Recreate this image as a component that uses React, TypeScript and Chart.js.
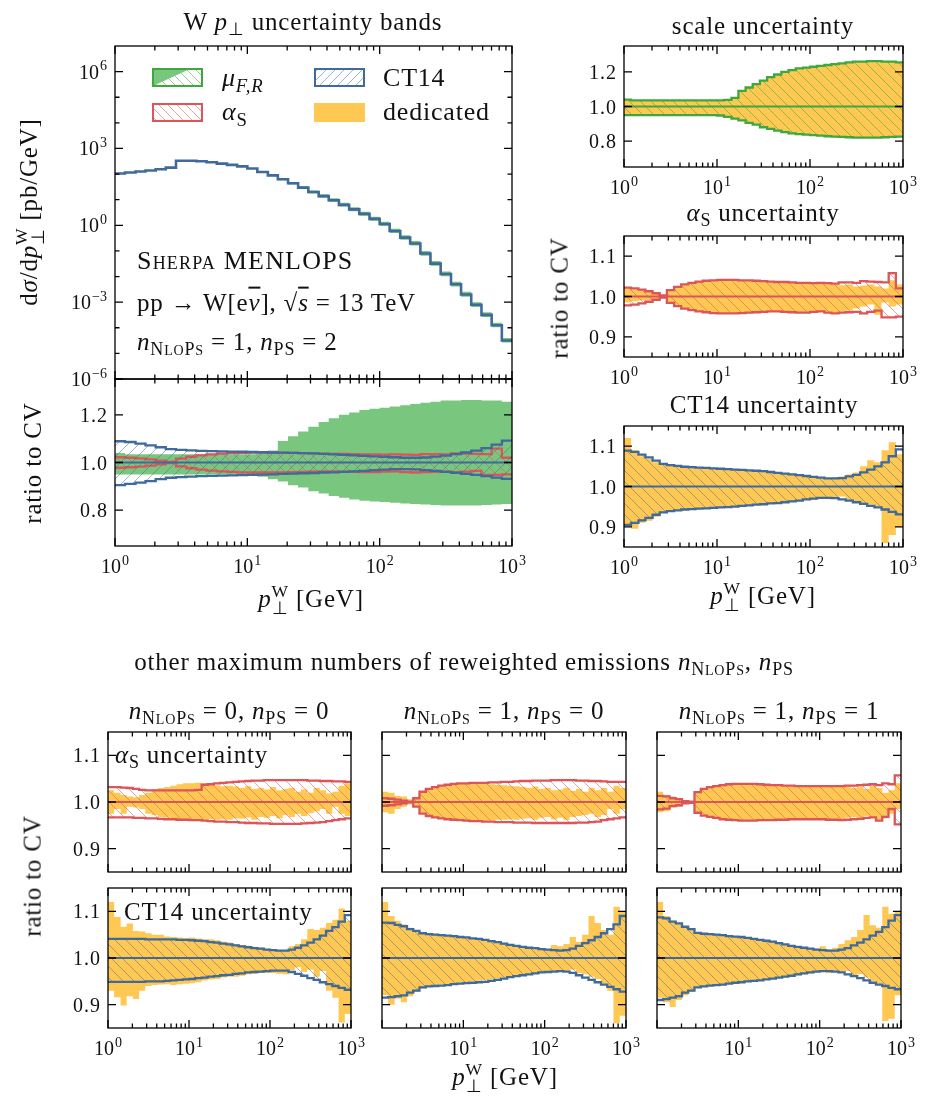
import React, { useEffect, useRef } from "react";
import { Chart, registerables } from "chart.js";
Chart.register(...registerables);

const W = 930;
const H = 1098;
const FONT = '"Liberation Serif", "Times New Roman", serif';
const TICK_PX = 20;
const EXP_PX = 14;

const C_GREEN = "#3ea83e";
const C_GREEN_FILL = "#79c77f";
const C_RED = "#dc5558";
const C_BLUE = "#3f6a9a";
const C_YELLOW = "#fec853";

// histogram bin edges in GeV (13 log bins per decade)
const BIN_EDGES = [1, 1.19, 1.43, 1.70, 2.03, 2.42, 2.89, 3.46, 4.12, 4.92, 5.88, 7.02, 8.38,
  10, 11.9, 14.3, 17.0, 20.3, 24.2, 28.9, 34.6, 41.2, 49.2, 58.8, 70.2, 83.8,
  100, 119, 143, 170, 203, 242, 289, 346, 412, 492, 588, 702, 838, 1000];

// dσ/dp⊥ [pb/GeV]
const SPECTRUM = [105, 115, 126, 138, 155, 178, 331, 331, 316, 288, 257, 229, 200, 166, 120, 89,
  63, 43.6, 29.5, 20, 13.8, 9.5, 6.3, 4.2, 2.8, 1.78, 1.12, 0.60, 0.33, 0.195, 0.079, 0.032,
  0.0126, 0.005, 0.002, 7.9e-4, 3.2e-4, 1.26e-4, 3.2e-5];

// ---- n_NLOPS = 1, n_PS = 2 ----
const SCALE_UP = [1.04, 1.035, 1.035, 1.035, 1.035, 1.035, 1.035, 1.035, 1.035, 1.035, 1.035, 1.035, 1.035, 1.035,
  1.038, 1.05, 1.09, 1.11, 1.13, 1.15, 1.17, 1.185, 1.20, 1.21, 1.22, 1.225, 1.23, 1.235, 1.24, 1.245,
  1.25, 1.255, 1.26, 1.26, 1.262, 1.262, 1.26, 1.26, 1.255];
const SCALE_LO = [0.95, 0.95, 0.95, 0.95, 0.95, 0.95, 0.95, 0.95, 0.95, 0.95, 0.95, 0.95, 0.95,
  0.948, 0.94, 0.93, 0.92, 0.905, 0.895, 0.88, 0.87, 0.86, 0.852, 0.845, 0.84, 0.837, 0.834, 0.831,
  0.828, 0.826, 0.824, 0.822, 0.82, 0.82, 0.82, 0.82, 0.822, 0.824, 0.826];
const SCALE_DED_UP = [1.038, 1.034, 1.034, 1.034, 1.034, 1.034, 1.034, 1.034, 1.034, 1.034, 1.034, 1.034, 1.034, 1.034,
  1.037, 1.049, 1.088, 1.108, 1.128, 1.148, 1.168, 1.183, 1.198, 1.208, 1.218, 1.223, 1.228, 1.233, 1.238, 1.243,
  1.248, 1.253, 1.258, 1.258, 1.26, 1.26, 1.258, 1.258, 1.253];
const SCALE_DED_LO = [0.952, 0.952, 0.952, 0.952, 0.952, 0.952, 0.952, 0.952, 0.952, 0.952, 0.952, 0.952, 0.952,
  0.95, 0.942, 0.932, 0.922, 0.907, 0.897, 0.882, 0.872, 0.862, 0.854, 0.847, 0.842, 0.839, 0.836, 0.833,
  0.83, 0.828, 0.826, 0.824, 0.822, 0.822, 0.822, 0.822, 0.824, 0.826, 0.828];

const ALPHAS_UP = [1.022, 1.020, 1.017, 1.013, 1.008, 1.003, 1.016, 1.024, 1.030, 1.034, 1.037, 1.039, 1.040,
  1.041, 1.041, 1.041, 1.040, 1.040, 1.039, 1.038, 1.037, 1.036, 1.036, 1.035, 1.034, 1.034, 1.033,
  1.034, 1.033, 1.032, 1.035, 1.035, 1.034, 1.038, 1.037, 1.036, 1.035, 1.058, 1.020];
const ALPHAS_LO = [0.978, 0.980, 0.983, 0.987, 0.992, 0.997, 0.984, 0.976, 0.970, 0.966, 0.963, 0.961, 0.959,
  0.958, 0.958, 0.958, 0.959, 0.960, 0.961, 0.962, 0.963, 0.963, 0.962, 0.961, 0.960, 0.960, 0.962,
  0.963, 0.960, 0.958, 0.960, 0.961, 0.962, 0.958, 0.962, 0.965, 0.948, 0.948, 0.950];
const ALPHAS_DED_UP = [1.02, 1.018, 1.015, 1.012, 1.008, 1.004, 1.015, 1.023, 1.029, 1.033, 1.036, 1.038, 1.039,
  1.04, 1.04, 1.04, 1.039, 1.039, 1.038, 1.037, 1.036, 1.035, 1.035, 1.034, 1.033, 1.033, 1.032,
  1.033, 1.031, 1.03, 1.028, 1.03, 1.025, 1.027, 1.03, 1.025, 1.02, 1.04, 1.03];
const ALPHAS_DED_LO = [0.985, 0.988, 0.99, 0.99, 0.993, 0.997, 0.985, 0.977, 0.971, 0.967, 0.964, 0.962, 0.96,
  0.959, 0.959, 0.959, 0.96, 0.961, 0.962, 0.963, 0.964, 0.964, 0.963, 0.962, 0.961, 0.962, 0.963,
  0.964, 0.962, 0.96, 0.963, 0.965, 0.97, 0.975, 0.98, 0.955, 0.985, 0.975, 0.98];

const CT14_UP = [1.089, 1.086, 1.079, 1.072, 1.064, 1.056, 1.053, 1.051, 1.049, 1.048, 1.047, 1.046, 1.045,
  1.044, 1.043, 1.042, 1.041, 1.040, 1.039, 1.038, 1.036, 1.034, 1.032, 1.030, 1.028, 1.026, 1.024,
  1.022, 1.020, 1.020, 1.021, 1.025, 1.029, 1.035, 1.042, 1.050, 1.060, 1.075, 1.092];
const CT14_LO = [0.905, 0.910, 0.916, 0.922, 0.930, 0.936, 0.939, 0.941, 0.943, 0.944, 0.945, 0.946, 0.947,
  0.948, 0.949, 0.950, 0.952, 0.953, 0.955, 0.956, 0.958, 0.959, 0.961, 0.963, 0.965, 0.968, 0.970,
  0.972, 0.972, 0.971, 0.968, 0.965, 0.961, 0.957, 0.952, 0.948, 0.943, 0.937, 0.931];
const CT14_DED_UP = [1.12, 1.09, 1.075, 1.068, 1.06, 1.054, 1.052, 1.05, 1.049, 1.048, 1.047, 1.046, 1.045,
  1.044, 1.043, 1.042, 1.041, 1.04, 1.038, 1.037, 1.036, 1.034, 1.032, 1.03, 1.028, 1.025, 1.024,
  1.02, 1.02, 1.022, 1.025, 1.03, 1.035, 1.05, 1.065, 1.06, 1.09, 1.11, 1.08];
const CT14_DED_LO = [0.905, 0.895, 0.91, 0.915, 0.925, 0.935, 0.94, 0.942, 0.944, 0.945, 0.946, 0.947, 0.948,
  0.949, 0.95, 0.951, 0.952, 0.954, 0.955, 0.957, 0.958, 0.96, 0.962, 0.964, 0.966, 0.966, 0.968,
  0.97, 0.972, 0.97, 0.975, 0.966, 0.96, 0.958, 0.955, 0.95, 0.86, 0.88, 0.9];

// ---- n_NLOPS = 0, n_PS = 0 ----
const ALPHAS_UP_00 = [1.032, 1.032, 1.031, 1.030, 1.028, 1.026, 1.025, 1.025, 1.025, 1.025, 1.025, 1.025, 1.025,
  1.025, 1.026, 1.037, 1.038, 1.040, 1.041, 1.042, 1.043, 1.044, 1.045, 1.046, 1.046, 1.047, 1.047,
  1.047, 1.047, 1.047, 1.047, 1.047, 1.046, 1.046, 1.045, 1.045, 1.044, 1.044, 1.043];
const ALPHAS_LO_00 = [0.967, 0.967, 0.967, 0.967, 0.966, 0.966, 0.965, 0.965, 0.964, 0.963, 0.963, 0.962, 0.962,
  0.961, 0.961, 0.960, 0.959, 0.958, 0.958, 0.957, 0.957, 0.956, 0.955, 0.955, 0.954, 0.954, 0.953,
  0.953, 0.953, 0.953, 0.953, 0.954, 0.955, 0.956, 0.957, 0.959, 0.961, 0.963, 0.965];
const ALPHAS_DED_UP_00 = [1.025, 1.02, 1.015, 1.012, 1.01, 1.015, 1.02, 1.028, 1.03, 1.032, 1.035, 1.038, 1.04,
  1.04, 1.041, 1.04, 1.038, 1.036, 1.034, 1.035, 1.033, 1.03, 1.034, 1.028, 1.03, 1.027, 1.032,
  1.025, 1.028, 1.03, 1.022, 1.027, 1.02, 1.03, 1.025, 1.018, 1.022, 1.035, 1.04];
const ALPHAS_DED_LO_00 = [0.975, 0.985, 0.975, 0.99, 0.988, 0.985, 0.975, 0.972, 0.968, 0.967, 0.965, 0.962, 0.963,
  0.962, 0.961, 0.962, 0.963, 0.962, 0.963, 0.962, 0.965, 0.964, 0.967, 0.962, 0.968, 0.966, 0.97,
  0.965, 0.972, 0.968, 0.975, 0.97, 0.976, 0.98, 0.985, 0.975, 0.99, 0.975, 0.97];
const CT14_UP_00 = [1.041, 1.041, 1.041, 1.041, 1.041, 1.041, 1.040, 1.040, 1.040, 1.040, 1.040, 1.039, 1.039,
  1.038, 1.037, 1.036, 1.034, 1.033, 1.031, 1.029, 1.027, 1.025, 1.023, 1.021, 1.020, 1.018, 1.017,
  1.016, 1.016, 1.018, 1.022, 1.027, 1.033, 1.040, 1.048, 1.058, 1.066, 1.078, 1.092];
const CT14_LO_00 = [0.949, 0.949, 0.949, 0.949, 0.949, 0.949, 0.950, 0.950, 0.950, 0.951, 0.952, 0.953, 0.954,
  0.955, 0.957, 0.958, 0.960, 0.961, 0.963, 0.964, 0.966, 0.967, 0.969, 0.970, 0.971, 0.972, 0.973,
  0.973, 0.973, 0.970, 0.966, 0.962, 0.957, 0.953, 0.948, 0.944, 0.940, 0.936, 0.932];
const CT14_DED_UP_00 = [1.12, 1.088, 1.067, 1.074, 1.058, 1.057, 1.053, 1.05, 1.05, 1.046, 1.045, 1.044, 1.043,
  1.044, 1.042, 1.04, 1.04, 1.038, 1.035, 1.033, 1.03, 1.028, 1.026, 1.024, 1.022, 1.02, 1.018,
  1.016, 1.016, 1.025, 1.03, 1.04, 1.062, 1.06, 1.065, 1.075, 1.082, 1.106, 1.08];
const CT14_DED_LO_00 = [0.93, 0.916, 0.898, 0.918, 0.912, 0.93, 0.94, 0.942, 0.943, 0.944, 0.942, 0.944, 0.945,
  0.946, 0.948, 0.952, 0.954, 0.955, 0.958, 0.96, 0.96, 0.962, 0.965, 0.966, 0.968, 0.968, 0.968,
  0.966, 0.965, 0.974, 0.98, 0.97, 0.975, 0.96, 0.972, 0.93, 0.915, 0.862, 0.88];

// ---- n_NLOPS = 1, n_PS = 0 ----
const ALPHAS_UP_10 = [1.008, 1.007, 1.005, 1.003, 1.001, 1.008, 1.022, 1.028, 1.032, 1.035, 1.037, 1.039, 1.040,
  1.040, 1.041, 1.041, 1.041, 1.042, 1.042, 1.043, 1.043, 1.044, 1.045, 1.045, 1.046, 1.046, 1.046,
  1.047, 1.047, 1.047, 1.047, 1.046, 1.046, 1.045, 1.045, 1.044, 1.043, 1.043, 1.043];
const ALPHAS_LO_10 = [0.992, 0.993, 0.995, 0.997, 0.999, 0.99, 0.975, 0.970, 0.967, 0.965, 0.963, 0.962, 0.961,
  0.960, 0.959, 0.959, 0.958, 0.958, 0.957, 0.957, 0.957, 0.956, 0.956, 0.956, 0.955, 0.955, 0.955,
  0.955, 0.955, 0.955, 0.955, 0.956, 0.956, 0.957, 0.958, 0.961, 0.963, 0.965, 0.967];
const ALPHAS_DED_UP_10 = [1.022, 1.02, 1.013, 1.012, 1.006, 1.01, 1.02, 1.026, 1.03, 1.034, 1.036, 1.038, 1.04,
  1.04, 1.04, 1.04, 1.039, 1.038, 1.037, 1.036, 1.035, 1.034, 1.032, 1.03, 1.033, 1.028, 1.03,
  1.025, 1.027, 1.03, 1.024, 1.028, 1.022, 1.03, 1.025, 1.03, 1.022, 1.035, 1.03];
const ALPHAS_DED_LO_10 = [0.978, 0.975, 0.985, 0.99, 0.995, 0.99, 0.976, 0.971, 0.968, 0.966, 0.964, 0.962, 0.962,
  0.961, 0.96, 0.96, 0.96, 0.961, 0.962, 0.962, 0.963, 0.962, 0.964, 0.965, 0.962, 0.966, 0.968,
  0.963, 0.966, 0.962, 0.968, 0.97, 0.972, 0.975, 0.968, 0.972, 0.985, 0.975, 0.985];
const CT14_UP_10 = [1.076, 1.075, 1.071, 1.068, 1.062, 1.058, 1.053, 1.051, 1.050, 1.049, 1.048, 1.047, 1.045,
  1.044, 1.042, 1.041, 1.039, 1.036, 1.034, 1.031, 1.028, 1.026, 1.024, 1.022, 1.021, 1.019, 1.018,
  1.017, 1.016, 1.017, 1.020, 1.026, 1.032, 1.038, 1.045, 1.053, 1.062, 1.072, 1.090];
const CT14_LO_10 = [0.915, 0.916, 0.918, 0.920, 0.926, 0.930, 0.937, 0.939, 0.940, 0.941, 0.942, 0.944, 0.945,
  0.946, 0.947, 0.948, 0.949, 0.951, 0.953, 0.956, 0.959, 0.961, 0.963, 0.965, 0.967, 0.969, 0.970,
  0.971, 0.972, 0.971, 0.968, 0.963, 0.958, 0.953, 0.948, 0.943, 0.938, 0.933, 0.928];
const CT14_DED_UP_10 = [1.12, 1.09, 1.08, 1.072, 1.065, 1.058, 1.055, 1.052, 1.05, 1.048, 1.047, 1.046, 1.045,
  1.043, 1.042, 1.04, 1.038, 1.036, 1.034, 1.031, 1.028, 1.026, 1.024, 1.022, 1.02, 1.02, 1.019,
  1.028, 1.025, 1.03, 1.045, 1.035, 1.05, 1.09, 1.075, 1.06, 1.05, 1.11, 1.1];
const CT14_DED_LO_10 = [0.92, 0.90, 0.913, 0.905, 0.918, 0.928, 0.935, 0.94, 0.942, 0.943, 0.944, 0.945, 0.947,
  0.948, 0.95, 0.951, 0.953, 0.954, 0.956, 0.958, 0.96, 0.962, 0.964, 0.965, 0.967, 0.968, 0.968,
  0.97, 0.972, 0.97, 0.975, 0.968, 0.965, 0.96, 0.955, 0.945, 0.93, 0.86, 0.876];

// ---- n_NLOPS = 1, n_PS = 1 ----
const ALPHAS_UP_11 = [1.013, 1.012, 1.008, 1.006, 1.002, 1.001, 1.021, 1.028, 1.032, 1.034, 1.036, 1.038, 1.039,
  1.039, 1.039, 1.039, 1.038, 1.037, 1.036, 1.036, 1.035, 1.035, 1.034, 1.034, 1.034, 1.034, 1.034,
  1.034, 1.034, 1.034, 1.035, 1.035, 1.036, 1.037, 1.038, 1.036, 1.040, 1.038, 1.057];
const ALPHAS_LO_11 = [0.984, 0.986, 0.991, 0.993, 0.997, 0.998, 0.977, 0.971, 0.968, 0.966, 0.963, 0.962, 0.961,
  0.960, 0.960, 0.960, 0.961, 0.961, 0.961, 0.962, 0.962, 0.963, 0.963, 0.963, 0.963, 0.963, 0.963,
  0.962, 0.962, 0.961, 0.962, 0.963, 0.964, 0.966, 0.967, 0.960, 0.968, 0.985, 0.952];
const ALPHAS_DED_UP_11 = [1.022, 1.015, 1.012, 1.008, 1.004, 1.002, 1.02, 1.027, 1.031, 1.033, 1.035, 1.037, 1.038,
  1.038, 1.038, 1.038, 1.037, 1.036, 1.035, 1.035, 1.034, 1.034, 1.033, 1.033, 1.033, 1.032, 1.033,
  1.032, 1.033, 1.032, 1.034, 1.03, 1.033, 1.028, 1.035, 1.03, 1.02, 1.025, 1.04];
const ALPHAS_DED_LO_11 = [0.978, 0.98, 0.988, 0.99, 0.996, 0.997, 0.978, 0.972, 0.968, 0.966, 0.964, 0.962, 0.961,
  0.961, 0.961, 0.961, 0.962, 0.962, 0.962, 0.963, 0.963, 0.964, 0.964, 0.964, 0.964, 0.964, 0.964,
  0.963, 0.963, 0.962, 0.966, 0.968, 0.965, 0.97, 0.968, 0.962, 0.965, 0.975, 0.985];
const CT14_UP_11 = [1.087, 1.085, 1.078, 1.074, 1.067, 1.062, 1.054, 1.052, 1.051, 1.050, 1.049, 1.047, 1.046,
  1.045, 1.043, 1.041, 1.039, 1.037, 1.035, 1.032, 1.029, 1.026, 1.024, 1.022, 1.020, 1.018, 1.017,
  1.016, 1.016, 1.018, 1.021, 1.027, 1.033, 1.040, 1.048, 1.056, 1.066, 1.080, 1.092];
const CT14_LO_11 = [0.910, 0.912, 0.915, 0.918, 0.926, 0.930, 0.937, 0.939, 0.941, 0.942, 0.943, 0.945, 0.947,
  0.948, 0.950, 0.951, 0.952, 0.954, 0.956, 0.958, 0.960, 0.962, 0.965, 0.967, 0.969, 0.971, 0.972,
  0.972, 0.971, 0.969, 0.965, 0.961, 0.957, 0.952, 0.947, 0.943, 0.940, 0.936, 0.933];
const CT14_DED_UP_11 = [1.12, 1.09, 1.08, 1.074, 1.066, 1.06, 1.055, 1.053, 1.052, 1.05, 1.049, 1.048, 1.046,
  1.046, 1.044, 1.042, 1.04, 1.038, 1.036, 1.033, 1.03, 1.027, 1.025, 1.022, 1.02, 1.02, 1.025,
  1.018, 1.022, 1.03, 1.038, 1.045, 1.06, 1.092, 1.07, 1.065, 1.11, 1.095, 1.1];
const CT14_DED_LO_11 = [0.915, 0.905, 0.895, 0.91, 0.92, 0.928, 0.936, 0.94, 0.942, 0.943, 0.944, 0.946, 0.947,
  0.948, 0.95, 0.951, 0.952, 0.953, 0.955, 0.957, 0.959, 0.961, 0.963, 0.965, 0.967, 0.97, 0.971,
  0.968, 0.97, 0.968, 0.972, 0.96, 0.965, 0.958, 0.95, 0.945, 0.865, 0.87, 0.92];

// axis ticks
const X_DECADES = [1, 10, 100, 1000];
const X_MINOR_MULT = [2, 3, 4, 5, 6, 7, 8, 9];
const MAIN_Y_MAJOR = [1e-6, 1e-3, 1, 1e3, 1e6];
const MAIN_Y_MINOR = [1e-5, 1e-4, 1e-2, 1e-1, 10, 100, 1e4, 1e5];
const MAIN_Y_EXP = ["−6", "−3", "0", "3", "6"];
const X_EXP = ["0", "1", "2", "3"];
const WIDE_TICKS = [0.8, 1.0, 1.2];
const NARROW_TICKS = [0.9, 1.0, 1.1];
const CV = [1, 1];

function pts(vals: number[]) {
  const out = vals.map((v, i) => ({ x: BIN_EDGES[i], y: v }));
  out.push({ x: BIN_EDGES[vals.length], y: vals[vals.length - 1] });
  return out;
}
function cvPts() {
  return [{ x: BIN_EDGES[0], y: CV[0] }, { x: BIN_EDGES[BIN_EDGES.length - 1], y: CV[1] }];
}

const patternCache: Record<string, CanvasPattern> = {};
function hatch(color: string, dir: "/" | "\\", s = 11, lw = 1): CanvasPattern {
  const key = color + dir + s + lw;
  if (patternCache[key]) return patternCache[key];
  const c = document.createElement("canvas");
  c.width = s;
  c.height = s;
  const g = c.getContext("2d")!;
  g.strokeStyle = color;
  g.lineWidth = lw;
  g.beginPath();
  if (dir === "\\") {
    g.moveTo(-1, -1); g.lineTo(s + 1, s + 1);
    g.moveTo(-1, s - 1); g.lineTo(1, s + 1);
    g.moveTo(s - 1, -1); g.lineTo(s + 1, 1);
  } else {
    g.moveTo(-1, s + 1); g.lineTo(s + 1, -1);
    g.moveTo(-1, 1); g.lineTo(1, -1);
    g.moveTo(s - 1, s + 1); g.lineTo(s + 1, s - 1);
  }
  g.stroke();
  const p = g.createPattern(c, "repeat")!;
  patternCache[key] = p;
  return p;
}

const NONE = "rgba(0,0,0,0)";
function base(o: any) {
  return { pointRadius: 0, stepped: true, tension: 0, fill: false, borderColor: NONE, borderWidth: 0, ...o };
}
function solidBand(up: number[], lo: number[], color: string, order: number) {
  return [
    base({ data: pts(up), fill: "+1", backgroundColor: color, order }),
    base({ data: pts(lo), order }),
  ];
}
function hatchBand(up: number[], lo: number[], edge: string, pat: CanvasPattern, order: number) {
  return [
    base({ data: pts(up), fill: "+1", backgroundColor: pat, borderColor: edge, borderWidth: 2.3, order }),
    base({ data: pts(lo), borderColor: edge, borderWidth: 2.3, order }),
  ];
}
function cvLine(color: string, order: number) {
  return base({ data: cvPts(), stepped: false, borderColor: color, borderWidth: 2, order });
}

function ratioSet(dUp: number[], dLo: number[], up: number[], lo: number[], edge: string, hatchColor: string) {
  return [
    ...solidBand(dUp, dLo, C_YELLOW, 100),
    ...hatchBand(up, lo, edge, hatch(hatchColor, "\\"), 50),
    cvLine(edge, 0),
  ];
}

const H_GREEN = "rgba(62,168,62,0.55)";
const H_RED = "rgba(220,85,88,0.55)";
const H_BLUE = "rgba(63,106,154,0.5)";

interface Panel {
  box: [number, number, number, number];
  yLog?: boolean;
  yMin: number;
  yMax: number;
  yMajor: number[];
  yMinor?: number[];
  yLabels?: string[];
  xLabels?: number[];
  legend?: boolean;
  datasets: () => any[];
}

function drawPow(ctx: CanvasRenderingContext2D, x: number, yBase: number, exp: string, align: "center" | "right") {
  ctx.font = `${TICK_PX}px ${FONT}`;
  const wb = ctx.measureText("10").width;
  ctx.font = `${EXP_PX}px ${FONT}`;
  const we = ctx.measureText(exp).width;
  const tot = wb + we + 1;
  const x0 = align === "center" ? x - tot / 2 : x - tot;
  ctx.textAlign = "left";
  ctx.textBaseline = "alphabetic";
  ctx.font = `${TICK_PX}px ${FONT}`;
  ctx.fillText("10", x0, yBase);
  ctx.font = `${EXP_PX}px ${FONT}`;
  ctx.fillText(exp, x0 + wb + 1, yBase - 8.5);
}

function drawLegend(ctx: CanvasRenderingContext2D) {
  const bw = 49, bh = 17;
  let x = 153, y = 69;
  ctx.fillStyle = hatch(H_GREEN, "\\", 9);
  ctx.fillRect(x, y, bw, bh);
  ctx.fillStyle = C_GREEN_FILL;
  ctx.beginPath(); ctx.moveTo(x, y); ctx.lineTo(x + bw * 0.75, y); ctx.lineTo(x, y + bh); ctx.closePath(); ctx.fill();
  ctx.strokeStyle = C_GREEN; ctx.lineWidth = 2; ctx.strokeRect(x, y, bw, bh);
  y = 104;
  ctx.fillStyle = hatch(H_RED, "\\", 9);
  ctx.fillRect(x, y, bw, bh);
  ctx.strokeStyle = C_RED; ctx.strokeRect(x, y, bw, bh);
  x = 315; y = 69;
  ctx.fillStyle = hatch(H_BLUE, "/", 9);
  ctx.fillRect(x, y, bw, bh);
  ctx.strokeStyle = C_BLUE; ctx.strokeRect(x, y, bw, bh);
  y = 104;
  ctx.fillStyle = C_YELLOW;
  ctx.fillRect(x - 1, y - 1, bw + 2, bh + 2);
}

function decoPlugin(p: Panel) {
  return {
    id: "deco",
    afterDraw(chart: any) {
      const ctx: CanvasRenderingContext2D = chart.ctx;
      const a = chart.chartArea;
      const xs = chart.scales.x;
      const ys = chart.scales.y;
      ctx.save();
      if (p.legend) drawLegend(ctx);
      ctx.strokeStyle = "#000";
      ctx.lineWidth = 1.3;
      ctx.strokeRect(a.left, a.top, a.right - a.left, a.bottom - a.top);
      ctx.lineWidth = 1.3;
      ctx.beginPath();
      X_DECADES.forEach((d) => {
        const xp = xs.getPixelForValue(d);
        ctx.moveTo(xp, a.bottom); ctx.lineTo(xp, a.bottom - 8);
        ctx.moveTo(xp, a.top); ctx.lineTo(xp, a.top + 8);
        if (d < 1000) {
          X_MINOR_MULT.forEach((m) => {
            const xm = xs.getPixelForValue(d * m);
            ctx.moveTo(xm, a.bottom); ctx.lineTo(xm, a.bottom - 4.5);
            ctx.moveTo(xm, a.top); ctx.lineTo(xm, a.top + 4.5);
          });
        }
      });
      p.yMajor.forEach((v) => {
        const yp = ys.getPixelForValue(v);
        ctx.moveTo(a.left, yp); ctx.lineTo(a.left + 8, yp);
        ctx.moveTo(a.right, yp); ctx.lineTo(a.right - 8, yp);
      });
      (p.yMinor || []).forEach((v) => {
        const yp = ys.getPixelForValue(v);
        ctx.moveTo(a.left, yp); ctx.lineTo(a.left + 4.5, yp);
        ctx.moveTo(a.right, yp); ctx.lineTo(a.right - 4.5, yp);
      });
      ctx.stroke();
      ctx.fillStyle = "#111";
      if (p.yLabels) {
        p.yMajor.forEach((v, i) => {
          const yp = ys.getPixelForValue(v);
          if (p.yLog) {
            drawPow(ctx, a.left - 8, yp + 7, p.yLabels![i], "right");
          } else {
            ctx.font = `${TICK_PX}px ${FONT}`;
            (ctx as any).letterSpacing = "1px";
            ctx.textAlign = "right";
            ctx.textBaseline = "alphabetic";
            ctx.fillText(p.yLabels![i], a.left - 7, yp + 7);
            (ctx as any).letterSpacing = "0px";
          }
        });
      }
      if (p.xLabels) {
        p.xLabels.forEach((v) => {
          const idx = X_DECADES.indexOf(v);
          drawPow(ctx, xs.getPixelForValue(v), a.bottom + 27, X_EXP[idx], "center");
        });
      }
      ctx.restore();
    },
  };
}

const ALL_X = [1, 10, 100, 1000];
const RIGHT_X = [10, 100, 1000];

const PANELS: Panel[] = [
  {
    box: [115, 46, 397, 333], yLog: true, yMin: 1e-6, yMax: 1e7,
    yMajor: MAIN_Y_MAJOR, yMinor: MAIN_Y_MINOR, yLabels: MAIN_Y_EXP, legend: true,
    datasets: () => [
      ...solidBand(SPECTRUM.map((v, i) => v * SCALE_UP[i]), SPECTRUM.map((v, i) => v * SCALE_LO[i]), C_GREEN_FILL, 100),
      base({ data: pts(SPECTRUM), borderColor: C_BLUE, borderWidth: 2.6, order: 0 }),
    ],
  },
  {
    box: [115, 379, 397, 167], yMin: 0.65, yMax: 1.35,
    yMajor: WIDE_TICKS, yLabels: ["0.8", "1.0", "1.2"], xLabels: ALL_X,
    datasets: () => [
      ...solidBand(SCALE_UP, SCALE_LO, C_GREEN_FILL, 100),
      ...hatchBand(ALPHAS_UP, ALPHAS_LO, C_RED, hatch(H_RED, "\\"), 40),
      ...hatchBand(CT14_UP, CT14_LO, C_BLUE, hatch(H_BLUE, "/"), 30),
      cvLine(C_BLUE, 0),
    ],
  },
  {
    box: [624, 46, 279, 121], yMin: 0.65, yMax: 1.35,
    yMajor: WIDE_TICKS, yLabels: ["0.8", "1.0", "1.2"], xLabels: ALL_X,
    datasets: () => ratioSet(SCALE_DED_UP, SCALE_DED_LO, SCALE_UP, SCALE_LO, C_GREEN, H_GREEN),
  },
  {
    box: [624, 236, 279, 121], yMin: 0.85, yMax: 1.15,
    yMajor: NARROW_TICKS, yLabels: ["0.9", "1.0", "1.1"], xLabels: ALL_X,
    datasets: () => ratioSet(ALPHAS_DED_UP, ALPHAS_DED_LO, ALPHAS_UP, ALPHAS_LO, C_RED, H_RED),
  },
  {
    box: [624, 426, 279, 121], yMin: 0.85, yMax: 1.15,
    yMajor: NARROW_TICKS, yLabels: ["0.9", "1.0", "1.1"], xLabels: ALL_X,
    datasets: () => ratioSet(CT14_DED_UP, CT14_DED_LO, CT14_UP, CT14_LO, C_BLUE, H_BLUE),
  },
  {
    box: [108, 732, 243, 140], yMin: 0.85, yMax: 1.15,
    yMajor: NARROW_TICKS, yLabels: ["0.9", "1.0", "1.1"],
    datasets: () => ratioSet(ALPHAS_DED_UP_00, ALPHAS_DED_LO_00, ALPHAS_UP_00, ALPHAS_LO_00, C_RED, H_RED),
  },
  {
    box: [108, 888, 243, 140], yMin: 0.85, yMax: 1.15,
    yMajor: NARROW_TICKS, yLabels: ["0.9", "1.0", "1.1"], xLabels: ALL_X,
    datasets: () => ratioSet(CT14_DED_UP_00, CT14_DED_LO_00, CT14_UP_00, CT14_LO_00, C_BLUE, H_BLUE),
  },
  {
    box: [382, 732, 244, 140], yMin: 0.85, yMax: 1.15, yMajor: NARROW_TICKS,
    datasets: () => ratioSet(ALPHAS_DED_UP_10, ALPHAS_DED_LO_10, ALPHAS_UP_10, ALPHAS_LO_10, C_RED, H_RED),
  },
  {
    box: [382, 888, 244, 140], yMin: 0.85, yMax: 1.15, yMajor: NARROW_TICKS, xLabels: RIGHT_X,
    datasets: () => ratioSet(CT14_DED_UP_10, CT14_DED_LO_10, CT14_UP_10, CT14_LO_10, C_BLUE, H_BLUE),
  },
  {
    box: [657, 732, 244, 140], yMin: 0.85, yMax: 1.15, yMajor: NARROW_TICKS,
    datasets: () => ratioSet(ALPHAS_DED_UP_11, ALPHAS_DED_LO_11, ALPHAS_UP_11, ALPHAS_LO_11, C_RED, H_RED),
  },
  {
    box: [657, 888, 244, 140], yMin: 0.85, yMax: 1.15, yMajor: NARROW_TICKS, xLabels: RIGHT_X,
    datasets: () => ratioSet(CT14_DED_UP_11, CT14_DED_LO_11, CT14_UP_11, CT14_LO_11, C_BLUE, H_BLUE),
  },
];

function PanelCanvas({ panel }: { panel: Panel }) {
  const ref = useRef<HTMLCanvasElement>(null);
  useEffect(() => {
    const cv = ref.current!;
    const [l, t, w, h] = panel.box;
    const chart = new Chart(cv, {
      type: "line",
      data: { datasets: panel.datasets() },
      options: {
        animation: false,
        responsive: false,
        maintainAspectRatio: false,
        devicePixelRatio: 1,
        events: [],
        layout: { padding: { left: l, top: t, right: W - l - w, bottom: H - t - h } },
        scales: {
          x: { type: "logarithmic", min: 1, max: 1000, display: false },
          y: { type: panel.yLog ? "logarithmic" : "linear", min: panel.yMin, max: panel.yMax, display: false },
        },
        plugins: { legend: { display: false }, tooltip: { enabled: false }, title: { display: false } },
      } as any,
      plugins: [decoPlugin(panel) as any],
    });
    return () => chart.destroy();
  }, [panel]);
  return (
    <canvas ref={ref} width={W} height={H}
      style={{ position: "absolute", left: 0, top: 0, width: W, height: H, pointerEvents: "none" }} />
  );
}

const Sub = ({ children }: any) => (
  <span style={{ fontSize: "0.72em", verticalAlign: "-0.3em", lineHeight: 0 }}>{children}</span>
);
const SC = ({ children }: any) => <span style={{ fontVariant: "small-caps" }}>{children}</span>;
const PW = () => (
  <span>
    <i>p</i>
    <span style={{ display: "inline-block", fontSize: "0.7em", lineHeight: 0.95, verticalAlign: "-0.4em", textAlign: "left" }}>
      <span style={{ display: "block" }}>W</span>
      <span style={{ display: "block" }}>⊥</span>
    </span>
  </span>
);
const NLOPS = () => (
  <span><i>n</i><Sub>N<span style={{ fontSize: "0.78em" }}>LO</span>P<span style={{ fontSize: "0.78em" }}>S</span></Sub></span>
);
const NPS = () => (<span><i>n</i><Sub>PS</Sub></span>);
const AS = () => (<span><i>α</i><Sub>S</Sub></span>);

function T({ x, y, size = 25, ls = 0.8, anchor = "c", rot = false, children }: any) {
  let tr = "translate(-50%,-50%)";
  if (anchor === "l") tr = "translate(0,-50%)";
  if (rot) tr = "translate(-50%,-50%) rotate(-90deg)";
  return (
    <div style={{
      position: "absolute", left: x, top: y, transform: tr, whiteSpace: "nowrap",
      fontFamily: FONT, fontSize: size, letterSpacing: ls, lineHeight: 1.15, color: "#111",
    }}>{children}</div>
  );
}

export default function App() {
  return (
    <div style={{ position: "absolute", left: 0, top: 0, width: W, height: H, background: "#fff", overflow: "hidden" }}>
      {PANELS.map((p, i) => <PanelCanvas key={i} panel={p} />)}

      <T x={313} y={22}>W <i>p</i><Sub>⊥</Sub> uncertainty bands</T>
      <T x={763} y={26}>scale uncertainty</T>
      <T x={763} y={213}><AS /> uncertainty</T>
      <T x={764} y={405}>CT14 uncertainty</T>
      <T x={464} y={662}>other maximum numbers of reweighted emissions <NLOPS />, <NPS /></T>
      <T x={229} y={711}><NLOPS /> = 0, <NPS /> = 0</T>
      <T x={504} y={711}><NLOPS /> = 1, <NPS /> = 0</T>
      <T x={779} y={711}><NLOPS /> = 1, <NPS /> = 1</T>

      <T x={30} y={212} rot>d<i>σ</i>/d<PW /> [pb/GeV]</T>
      <T x={33} y={463} rot>ratio to CV</T>
      <T x={560} y={298} rot>ratio to CV</T>
      <T x={33} y={876} rot>ratio to CV</T>

      <T x={311} y={600}><PW /> [GeV]</T>
      <T x={763} y={597}><PW /> [GeV]</T>
      <T x={505} y={1078}><PW /> [GeV]</T>

      <T x={137} y={261} anchor="l" size={26} ls={1.2}><SC>Sherpa</SC> MENLOPS</T>
      <T x={137} y={303} anchor="l">pp → W[e<span style={{ textDecoration: "overline" }}><i>ν</i></span>], √<span style={{ textDecoration: "overline" }}><i>s</i></span> = 13 TeV</T>
      <T x={137} y={342} anchor="l"><NLOPS /> = 1, <NPS /> = 2</T>

      <T x={222} y={78} anchor="l" size={26}><i>μ</i><Sub><i>F,R</i></Sub></T>
      <T x={222} y={112} anchor="l" size={26}><AS /></T>
      <T x={383} y={78} anchor="l" size={26}>CT14</T>
      <T x={383} y={112} anchor="l" size={26}>dedicated</T>

      <T x={115} y={755} anchor="l"><AS /> uncertainty</T>
      <T x={124} y={912} anchor="l">CT14 uncertainty</T>
    </div>
  );
}
